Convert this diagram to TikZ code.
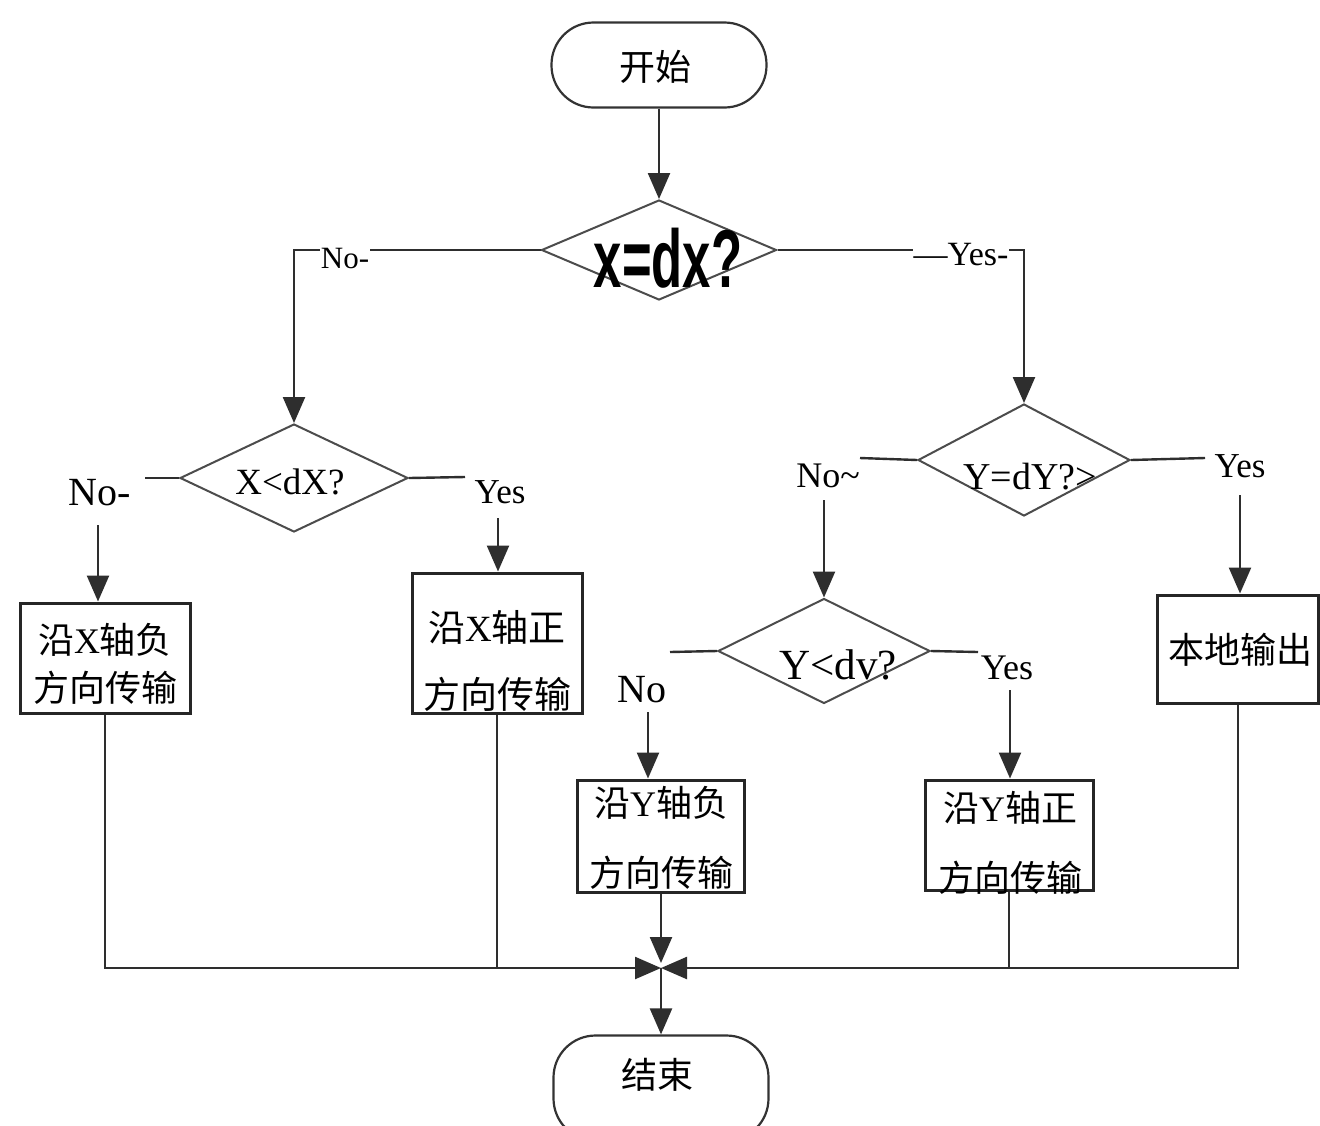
\documentclass[tikz,border=0pt]{standalone}
\usepackage{fontspec}
\usepackage{graphicx}
\setmainfont{Liberation Serif}
\newfontfamily\cjk{Noto Sans CJK SC}
\newfontfamily\bigsans{Liberation Sans}
\usetikzlibrary{shapes.geometric,arrows.meta}

\begin{document}
\begin{tikzpicture}[x=1pt,y=-1pt,
  line/.style={draw=black!82, line width=2.4pt},
  arr/.style={line, -{Triangle[length=26pt,width=22pt]}},
  box/.style={draw=black!85, line width=3pt, rectangle, inner sep=0pt},
  dec/.style={draw=black!70, line width=2pt, diamond, inner sep=0pt},
  term/.style={draw=black!80, line width=2.2pt, rounded corners=42pt, inner sep=0pt},
  lbl/.style={inner sep=1pt, text=black},
  tag/.style={lbl, fill=white},
]
\useasboundingbox (0,0) rectangle (1320,1125);
\clip (0,0) rectangle (1320,1125);
\fill[white] (0,0) rectangle (1320,1125);

% terminals
\node[term, minimum width=215pt, minimum height=85pt] (start) at (659,65) {};
\node[lbl, font=\cjk\fontsize{36}{40}\selectfont] (startt) at (655,67) {开始};
\node[term, minimum width=215pt, minimum height=105pt] (end) at (661,1088) {};
\node[lbl, font=\cjk\fontsize{36}{40}\selectfont] (endt) at (657,1075) {结束};

% decisions
\node[dec, minimum width=235pt, minimum height=100pt] (d1) at (659,250) {};
\node[lbl, inner sep=0pt, font=\bigsans\bfseries\fontsize{82}{84}\selectfont] (d1t) at (668,258) {\scalebox{0.62}[1]{x=dx?}};
\node[dec, minimum width=228pt, minimum height=108pt] (d2) at (294,478) {};
\node[lbl, font=\fontsize{37}{40}\selectfont] (d2t) at (290,482) {X<dX?};
\node[dec, minimum width=212pt, minimum height=112pt] (d3) at (1024,460) {};
\node[lbl, font=\fontsize{38}{40}\selectfont] (d3t) at (1030,477) {Y=dY?>};
\node[dec, minimum width=212pt, minimum height=105pt] (d4) at (824,651) {};
\node[lbl, font=\fontsize{43}{44}\selectfont] (d4t) at (838,665) {Y<dv?};

% process boxes
\node[box, minimum width=170pt, minimum height=110pt] (b1) at (105,658) {};
\node[lbl, align=center, font=\fontsize{36}{48}\selectfont] (b1t) at (105,664)
  {{\cjk 沿}X{\cjk 轴负}\\{\cjk 方向传输}};
\node[box, minimum width=170pt, minimum height=140pt] (b2) at (497,643) {};
\node[lbl, align=center, font=\fontsize{37}{67}\selectfont] (b2t) at (497,661)
  {{\cjk 沿}X{\cjk 轴正}\\{\cjk 方向传输}};
\node[box, minimum width=161pt, minimum height=108pt] (loc) at (1238,649) {};
\node[lbl, font=\cjk\fontsize{36}{40}\selectfont] (loct) at (1240,650) {本地输出};
\node[box, minimum width=167pt, minimum height=112pt] (bym) at (661,836) {};
\node[lbl, align=center, font=\fontsize{36}{70}\selectfont] (bymt) at (661,838)
  {{\cjk 沿}Y{\cjk 轴负}\\{\cjk 方向传输}};
\node[box, minimum width=168pt, minimum height=110pt] (byp) at (1009,835) {};
\node[lbl, align=center, font=\fontsize{36}{70}\selectfont] (bypt) at (1010,843)
  {{\cjk 沿}Y{\cjk 轴正}\\{\cjk 方向传输}};

% free ends of the branch lines
\coordinate (d2l) at (145,478);
\coordinate (d2r) at (465,477);
\coordinate (d3l) at (860,458);
\coordinate (d3r) at (1205,458);
\coordinate (d4l) at (670,652);
\coordinate (d4r) at (978,652);
\coordinate (a1) at (98,525);
\coordinate (a2) at (498,518);
\coordinate (a3) at (824,500);
\coordinate (a4) at (1240,495);
\coordinate (a5) at (648,712);
\coordinate (a6) at (1010,690);
\coordinate (J) at (661,968);

% main flow
\draw[arr] (start) -- (d1.north);
\draw[arr] (d1.west) -| (d2.north);
\draw[arr] (d1.east) -| (d3.north);
\node[tag, font=\fontsize{31}{34}\selectfont] (no1) at (345,258) {No-};
\node[tag, font=\fontsize{34}{36}\selectfont] (yes1) at (961,255) {—Yes-};

% X branches
\draw[line] (d2.west) -- (d2l);
\draw[line] (d2.east) -- (d2r);
\node[lbl, font=\fontsize{40}{42}\selectfont] (no2) at (100,493) {No-};
\node[lbl, font=\fontsize{35}{38}\selectfont] (yes2) at (500,492) {Yes};
\draw[arr] (a1) -- (a1 |- b1.north);
\draw[arr] (a2) -- (a2 |- b2.north);

% Y branches
\draw[line] (d3.west) -- (d3l);
\draw[line] (d3.east) -- (d3r);
\node[lbl, font=\fontsize{36}{38}\selectfont] (no3) at (828,476) {No\textasciitilde};
\node[lbl, font=\fontsize{35}{38}\selectfont] (yes3) at (1240,466) {Yes};
\draw[arr] (a3) -- (d4.north);
\draw[arr] (a4) -- (a4 |- loc.north);

\draw[line] (d4.west) -- (d4l);
\draw[line] (d4.east) -- (d4r);
\node[lbl, font=\fontsize{40}{42}\selectfont] (no4) at (642,690) {No};
\node[lbl, font=\fontsize{36}{38}\selectfont] (yes4) at (1007,668) {Yes};
\draw[arr] (a5) -- (a5 |- bym.north);
\draw[arr] (a6) -- (a6 |- byp.north);

% merging into the end
\draw[arr] (b1.south) |- (J);
\draw[line] (b2.south) -- (b2.south |- J);
\draw[line] (byp.south) -- (byp.south |- J);
\draw[arr] (loc.south) |- (J);
\draw[arr, shorten >=5pt] (bym.south) -- (J);
\draw[arr] (J) -- (J |- end.north);
\end{tikzpicture}
\end{document}
